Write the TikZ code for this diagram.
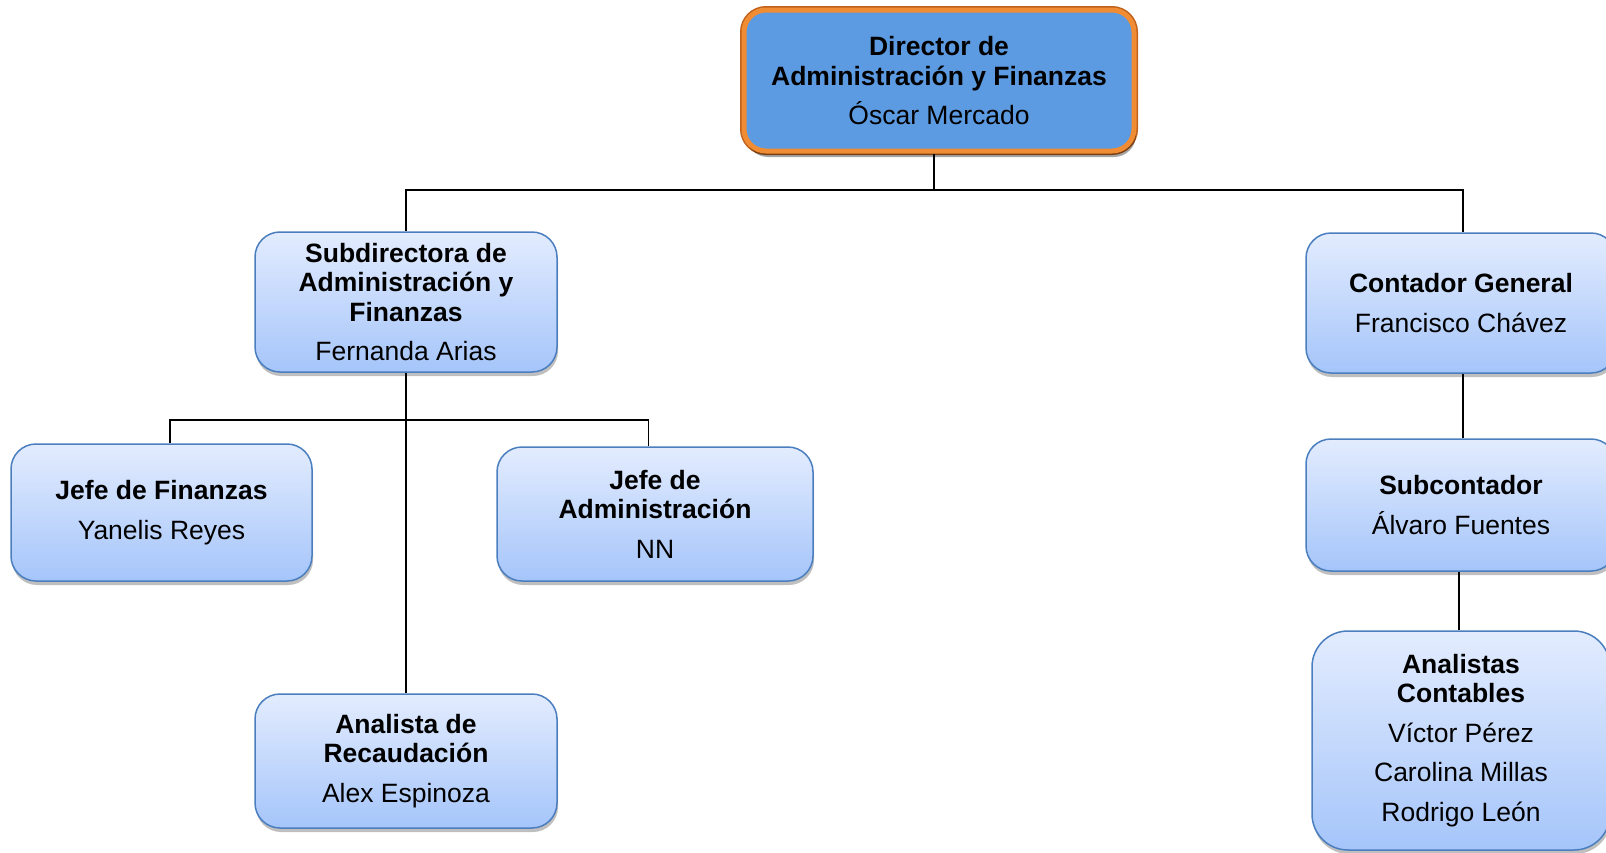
\documentclass[tikz,border=0pt]{standalone}
\usepackage{fontspec}
\setmainfont{Liberation Sans}
\usetikzlibrary{shadows}
\definecolor{boxtop}{HTML}{E3ECFE}
\definecolor{boxbot}{HTML}{A5C5FA}
\definecolor{boxborder}{HTML}{4A7EBE}
\definecolor{dirfill}{HTML}{5C9BE2}
\definecolor{dirborder}{HTML}{F08C33}
\definecolor{dirborderdark}{HTML}{C0621C}
\begin{document}
\begin{tikzpicture}[x=1pt,y=-1pt,
  orgbox/.style={rectangle, rounded corners=25pt, draw=boxborder, line width=1.5pt,
    top color=boxtop, bottom color=boxbot, align=center, inner sep=0pt,
    font=\fontsize{26.5}{29.5}\selectfont,
    drop shadow={shadow xshift=1pt, shadow yshift=-4pt, opacity=0.25, fill=black}},
  dirbox/.style={rectangle, rounded corners=22pt, fill=dirfill,
    preaction={draw=dirborderdark, line width=8pt},
    draw=dirborder, line width=5pt, align=center, inner sep=0pt,
    font=\fontsize{26.5}{29.5}\selectfont,
    drop shadow={shadow xshift=2pt, shadow yshift=-6pt, opacity=0.35, fill=black}},
  conn/.style={draw=black, line width=1.6pt}]
\useasboundingbox (0,0) rectangle (1606,852);
\fill[white] (0,0) rectangle (1606,852);

\coordinate (busA) at (0,190);
\coordinate (busB) at (0,420);

\node[dirbox, minimum width=390pt, minimum height=141pt] (top) at (939,80.5)
  {\textbf{Director de}\\\textbf{Administración y Finanzas}\\[9.5pt]Óscar Mercado};

\node[orgbox, minimum width=302pt, minimum height=140pt] (sub) at (406,302)
  {\textbf{Subdirectora de}\\\textbf{Administración y}\\\textbf{Finanzas}\\[10pt]Fernanda Arias};

\node[orgbox, minimum width=310pt, minimum height=140pt] (cont) at (1461,303)
  {\textbf{Contador General}\\[10pt]Francisco Chávez};

\node[orgbox, minimum width=301pt, minimum height=137pt] (jf) at (161.5,512.5)
  {\textbf{Jefe de Finanzas}\\[10pt]Yanelis Reyes};

\node[orgbox, minimum width=316pt, minimum height=134pt] (ja) at (655,514)
  {\textbf{Jefe de}\\\textbf{Administración}\\[10pt]NN};

\node[orgbox, minimum width=302pt, minimum height=134pt] (ar) at (406,761)
  {\textbf{Analista de}\\\textbf{Recaudación}\\[10pt]Alex Espinoza};

\node[orgbox, minimum width=310pt, minimum height=132pt] (subc) at (1461,505)
  {\textbf{Subcontador}\\[10pt]Álvaro Fuentes};

\node[orgbox, rounded corners=36pt, minimum width=298pt, minimum height=219pt] (anal) at (1461,740.5)
  {\textbf{Analistas}\\\textbf{Contables}\\[10pt]Víctor Pérez\\[10pt]Carolina Millas\\[10pt]Rodrigo León};

\draw[conn] ([xshift=-5pt]top.south) -- ([xshift=-5pt]top.south |- busA);
\draw[conn] (sub.north) |- ([xshift=2pt]cont.north |- busA) -- ([xshift=2pt]cont.north);
\draw[conn] (sub.south) -- (ar.north);
\draw[conn] ([xshift=8.5pt]jf.north) |- ([xshift=-6.5pt]ja.north |- busB) -- ([xshift=-6.5pt]ja.north);
\draw[conn] ([xshift=2pt]cont.south) -- ([xshift=2pt]subc.north);
\draw[conn] ([xshift=-2pt]subc.south) -- ([xshift=-2pt]anal.north);
\end{tikzpicture}
\end{document}
